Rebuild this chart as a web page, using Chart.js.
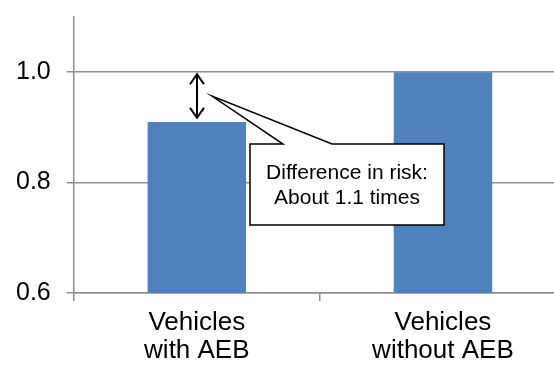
<!DOCTYPE html>
<html>
<head>
<meta charset="utf-8">
<script src="https://cdn.jsdelivr.net/npm/chart.js@4/dist/chart.umd.min.js"></script>
<style>
  html, body { margin: 0; padding: 0; background: #ffffff; overflow: hidden; }
  #wrap { position: relative; width: 566px; height: 365px; }
</style>
</head>
<body>
<div id="wrap"><canvas id="chart"></canvas></div>
<script>
// Relative collision risk, with and without automatic emergency braking
const categories = [["Vehicles", "with AEB"], ["Vehicles", "without AEB"]];
const riskValues = [0.91, 1.0];
const yTicks = [0.6, 0.8, 1.0];
const calloutLines = ["Difference in risk:", "About 1.1 times"];

const FONT = "'Liberation Sans', Arial, sans-serif";

// Double-headed arrow between the two bar heights plus a speech-bubble note
const differenceNote = {
  id: 'differenceNote',
  afterDatasetsDraw(chart) {
    const ctx = chart.ctx;
    const y = chart.scales.y;
    const bar = chart.getDatasetMeta(0).data[0];
    const x = Math.round(bar.x);
    const yHigh = y.getPixelForValue(riskValues[1]) + 2;
    const yLow = y.getPixelForValue(riskValues[0]) - 4;

    ctx.save();
    ctx.strokeStyle = '#000';
    ctx.lineWidth = 2;
    ctx.lineJoin = 'miter';
    ctx.beginPath();
    ctx.moveTo(x, yHigh + 1);
    ctx.lineTo(x, yLow - 1);
    // top head
    ctx.moveTo(x - 7, yHigh + 10);
    ctx.lineTo(x, yHigh);
    ctx.lineTo(x + 7, yHigh + 10);
    // bottom head
    ctx.moveTo(x - 7, yLow - 10);
    ctx.lineTo(x, yLow);
    ctx.lineTo(x + 7, yLow - 10);
    ctx.stroke();

    // callout
    const tipX = x + 15;
    const tipY = (yHigh + yLow) / 2;
    const bx = tipX + 38, by = tipY + 48, bw = 194, bh = 81;
    ctx.lineWidth = 1.5;
    ctx.fillStyle = '#ffffff';
    ctx.beginPath();
    ctx.moveTo(bx, by);
    ctx.lineTo(tipX + 71, by);
    ctx.lineTo(tipX, tipY);
    ctx.lineTo(tipX + 120, by);
    ctx.lineTo(bx + bw, by);
    ctx.lineTo(bx + bw, by + bh);
    ctx.lineTo(bx, by + bh);
    ctx.closePath();
    ctx.fill();
    ctx.stroke();

    ctx.fillStyle = '#000';
    ctx.font = '21px ' + FONT;
    ctx.textAlign = 'center';
    ctx.textBaseline = 'alphabetic';
    ctx.fillText(calloutLines[0], bx + bw / 2, by + 35);
    ctx.fillText(calloutLines[1], bx + bw / 2, by + 60);
    ctx.restore();
  }
};

// drop the half-label padding so the plot area spans the full axis range
const noEdgePadding = (scale) => {
  scale.paddingTop = 0;
  scale.paddingBottom = 0;
};

new Chart(document.getElementById('chart'), {
  type: 'bar',
  data: {
    labels: categories,
    datasets: [{
      data: riskValues,
      backgroundColor: '#4f81bd',
      borderWidth: 0,
      barPercentage: 0.4,
      categoryPercentage: 1.0
    }]
  },
  options: {
    responsive: true,
    maintainAspectRatio: false,
    animation: false,
    devicePixelRatio: 1,
    layout: { padding: { left: 0, top: 17, right: 0, bottom: 0 } },
    plugins: { legend: { display: false }, tooltip: { enabled: false } },
    scales: {
      x: {
        afterFit(scale) { scale.height = 72; },
        grid: {
          offset: true,
          drawOnChartArea: false,
          drawTicks: true,
          tickLength: 8,
          color: '#8f8f8f',
          lineWidth: 1.5
        },
        border: { display: true, color: '#8f8f8f', width: 1.5 },
        ticks: {
          color: '#000',
          font: { family: FONT, size: 26, lineHeight: 1.08 },
          padding: 8,
          maxRotation: 0
        }
      },
      y: {
        min: 0.6,
        max: 1.1,
        afterBuildTicks(scale) {
          scale.ticks = yTicks.map(v => ({ value: v }));
        },
        afterFit: noEdgePadding,
        grid: {
          color: '#8f8f8f',
          lineWidth: 1.5,
          tickLength: 7
        },
        border: { display: true, color: '#8f8f8f', width: 1.5 },
        ticks: {
          color: '#000',
          font: { family: FONT, size: 25 },
          padding: 16,
          callback: v => Number(v).toFixed(1)
        }
      }
    }
  },
  plugins: [differenceNote]
});
</script>
</body>
</html>
